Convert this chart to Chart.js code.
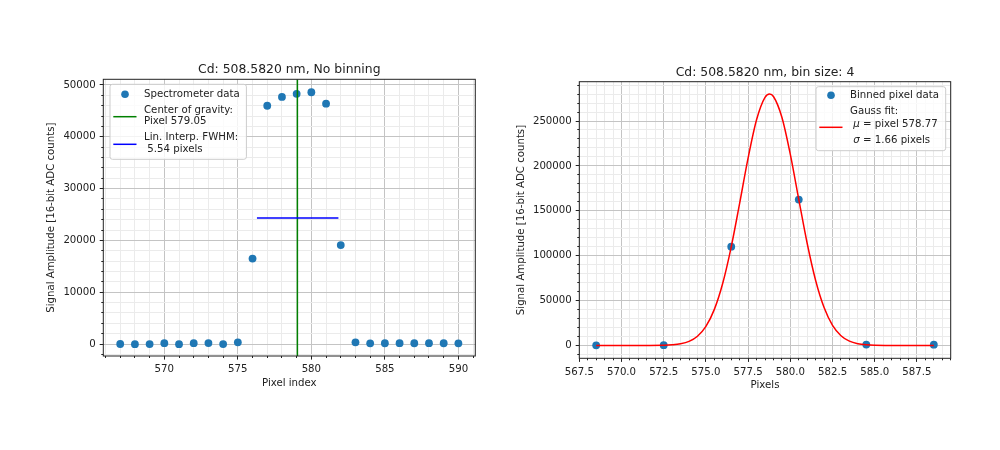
<!DOCTYPE html>
<html>
<head>
<meta charset="utf-8">
<script src="https://cdn.jsdelivr.net/npm/chart.js@4.4.0/dist/chart.umd.min.js"></script>
<style>
  body { margin: 0; background: #fff; }
  #wrap { position: relative; width: 1000px; height: 450px; }
  canvas { position: absolute; top: 0; }
</style>
</head>
<body>
<div id="wrap">
  <canvas id="raw" width="500" height="450" style="left:0"></canvas>
  <canvas id="binned" width="500" height="450" style="left:500px"></canvas>
</div>
<script>
// ---- left plot: unbinned spectrometer pixels ----
var pixelIndex = [567, 568, 569, 570, 571, 572, 573, 574, 575, 576, 577, 578,
                  579, 580, 581, 582, 583, 584, 585, 586, 587, 588, 589, 590];
var rawCounts = [20, -10, 10, 180, -20, 170, 190, 0, 330, 16500, 46000, 47700,
                 48300, 48600, 46400, 19100, 330, 150, 160, 170, 160, 170, 160, 150];
var cogPixel = 579.05;
var fwhmLeft = 576.30, fwhmRight = 581.84, halfMax = 24330;
var rawXRange = [565.85, 591.15], rawYRange = [-2300, 51100];

// ---- right plot: bin size 4 + gauss fit ----
var binPixels = [568.5, 572.5, 576.5, 580.5, 584.5, 588.5];
var binCounts = [200, 300, 110000, 162500, 1000, 900];
var fitPixels = [568.5, 570.5, 572.5, 573.0, 573.5, 574.0, 574.5, 575.0, 575.5, 576.0,
                 576.5, 577.0, 577.5, 578.0, 578.5, 578.77, 579.0, 579.5, 580.0, 580.5,
                 581.0, 581.5, 582.0, 582.5, 583.0, 583.5, 584.0, 584.5, 585.0, 586.5, 588.5];
var fitCounts = [0, 0, 230, 670, 1800, 4500, 10300, 21300, 40200, 69600,
                 109900, 158600, 208900, 251400, 276300, 280000, 277300, 254200, 212800, 162700,
                 113600, 72400, 42200, 22400, 10900, 4800, 1960, 730, 250, 0, 0];
var binXRange = [567.5, 589.5], binYRange = [-14300, 293800];

function xy(xs, ys) {
  return xs.map(function(x, i) { return { x: x, y: ys[i] }; });
}
function isMajor(v, step) {
  return Math.abs(v / step - Math.round(v / step)) < 1e-6;
}
function align(px) {
  return Math.round(px - 0.5) + 0.5;
}
// every multiple of step inside the axis range (minor + major)
function tickValues(range, step) {
  var out = [];
  for (var k = Math.ceil(range[0] / step - 1e-9); k * step <= range[1] + 1e-9; k++) {
    out.push({ value: Math.round(k * step * 1000) / 1000 });
  }
  return out;
}

Chart.defaults.font.family = '"DejaVu Sans", sans-serif';
Chart.defaults.font.size = 10.2;
Chart.defaults.color = '#222';

// matplotlib look: frame, outward ticks, title, legend box
var mplDecor = {
  id: 'mplDecor',
  afterDraw: function(chart, args, opts) {
    var ctx = chart.ctx, a = chart.chartArea;
    var xs = chart.scales.x, ys = chart.scales.y;
    ctx.save();
    ctx.strokeStyle = '#222';
    ctx.lineWidth = 1;
    ctx.beginPath();
    xs.ticks.forEach(function(t) {
      var px = align(xs.getPixelForValue(t.value));
      var len = isMajor(t.value, opts.xMajor) ? 3.6 : 2;
      ctx.moveTo(px, a.bottom);
      ctx.lineTo(px, a.bottom + len);
    });
    ys.ticks.forEach(function(t) {
      var py = align(ys.getPixelForValue(t.value));
      var len = isMajor(t.value, opts.yMajor) ? 3.6 : 2;
      ctx.moveTo(a.left, py);
      ctx.lineTo(a.left - len, py);
    });
    ctx.stroke();
    ctx.strokeRect(a.left, a.top, a.right - a.left, a.bottom - a.top);

    ctx.fillStyle = '#222';
    ctx.font = '12.4px "DejaVu Sans"';
    ctx.textAlign = 'center';
    ctx.textBaseline = 'alphabetic';
    ctx.fillText(opts.title, (a.left + a.right) / 2, a.top - 6);

    var lg = opts.legend;
    var bx = lg.side === 'left' ? a.left + lg.dx : a.right - lg.dx - lg.w;
    var by = a.top + lg.dy;
    ctx.beginPath();
    ctx.roundRect(bx, by, lg.w, lg.h, 2.5);
    ctx.fillStyle = 'rgba(255,255,255,0.8)';
    ctx.fill();
    ctx.strokeStyle = '#cccccc';
    ctx.stroke();

    ctx.textAlign = 'left';
    ctx.textBaseline = 'middle';
    lg.items.forEach(function(it) {
      if (it.kind === 'dot') {
        ctx.beginPath();
        ctx.arc(bx + 15, by + it.y, 3.8, 0, Math.PI * 2);
        ctx.fillStyle = it.color;
        ctx.fill();
      } else {
        ctx.beginPath();
        ctx.moveTo(bx + 3.3, by + it.y);
        ctx.lineTo(bx + 26.5, by + it.y);
        ctx.strokeStyle = it.color;
        ctx.lineWidth = 1.5;
        ctx.stroke();
      }
      ctx.fillStyle = '#222';
      it.lines.forEach(function(ln) {
        var x = bx + 34;
        ln[0].split(/([μσ])/).forEach(function(run) {
          if (!run) return;
          ctx.font = (/[μσ]/.test(run) ? 'oblique ' : '') + '10.2px "DejaVu Sans"';
          ctx.fillText(run, x, by + ln[1]);
          x += ctx.measureText(run).width;
        });
      });
    });
    ctx.restore();
  }
};

function axis(range, step, major, fmt, titleText, titlePad, size) {
  return {
    type: 'linear',
    min: range[0],
    max: range[1],
    afterBuildTicks: function(scale) { scale.ticks = tickValues(range, step); },
    afterFit: function(scale) {
      if (scale.isHorizontal()) scale.height = size; else scale.width = size;
    },
    grid: {
      drawTicks: false,
      color: function(c) { return isMajor(c.tick.value, major) ? '#c4c4c4' : '#ebebeb'; },
      lineWidth: 1
    },
    border: { display: false },
    ticks: {
      autoSkip: false,
      maxRotation: 0,
      padding: 7.5,
      callback: function(v) { return isMajor(v, major) ? fmt(v) : ''; }
    },
    title: { display: true, text: titleText, padding: titlePad }
  };
}

new Chart(document.getElementById('raw'), {
  type: 'scatter',
  data: {
    datasets: [
      {
        label: 'Spectrometer data',
        data: xy(pixelIndex, rawCounts),
        backgroundColor: '#1f77b4',
        borderWidth: 0,
        pointRadius: 3.9,
        order: 3
      },
      {
        label: 'Center of gravity',
        data: xy([cogPixel, cogPixel], rawYRange),
        showLine: true,
        borderColor: '#008000',
        borderWidth: 1.5,
        pointRadius: 0,
        order: 2
      },
      {
        label: 'Lin. Interp. FWHM',
        data: xy([fwhmLeft, fwhmRight], [halfMax, halfMax]),
        showLine: true,
        borderColor: '#0000ff',
        borderWidth: 1.5,
        pointRadius: 0,
        order: 1
      }
    ]
  },
  options: {
    responsive: false,
    animation: false,
    events: [],
    layout: { padding: { left: 0, top: 79.3, right: 24.7, bottom: 54 } },
    scales: {
      x: axis(rawXRange, 1, 5, function(v) { return String(v); }, 'Pixel index', { top: 0, bottom: 6.2 }, 40),
      y: axis(rawYRange, 2000, 10000, function(v) { return String(v); },
              'Signal Amplitude [16-bit ADC counts]', { top: 45.6, bottom: 0 }, 103.3)
    },
    plugins: {
      legend: { display: false },
      tooltip: { enabled: false },
      mplDecor: {
        title: 'Cd: 508.5820 nm, No binning',
        xMajor: 5, yMajor: 10000,
        legend: {
          side: 'left', dx: 6.7, dy: 5, w: 136.4, h: 75,
          items: [
            { kind: 'dot', color: '#1f77b4', y: 10, lines: [['Spectrometer data', 10]] },
            { kind: 'line', color: '#008000', y: 32.4,
              lines: [['Center of gravity:', 25.7], ['Pixel 579.05', 37.4]] },
            { kind: 'line', color: '#0000ff', y: 60,
              lines: [['Lin. Interp. FWHM:', 53.4], [' 5.54 pixels', 65]] }
          ]
        }
      }
    }
  },
  plugins: [mplDecor]
});

new Chart(document.getElementById('binned'), {
  type: 'scatter',
  data: {
    datasets: [
      {
        label: 'Binned pixel data',
        data: xy(binPixels, binCounts),
        backgroundColor: '#1f77b4',
        borderWidth: 0,
        pointRadius: 3.9,
        order: 2
      },
      {
        label: 'Gauss fit',
        data: xy(fitPixels, fitCounts),
        showLine: true,
        cubicInterpolationMode: 'monotone',
        borderColor: '#ff0000',
        borderWidth: 1.5,
        pointRadius: 0,
        order: 1
      }
    ]
  },
  options: {
    responsive: false,
    animation: false,
    events: [],
    layout: { padding: { left: 0, top: 81.7, right: 49.3, bottom: 51.7 } },
    scales: {
      x: axis(binXRange, 0.5, 2.5, function(v) { return v.toFixed(1); }, 'Pixels', { top: 0, bottom: 7.2 }, 40),
      y: axis(binYRange, 10000, 50000, function(v) { return String(v); },
              'Signal Amplitude [16-bit ADC counts]', { top: 15.6, bottom: 0 }, 79.3)
    },
    plugins: {
      legend: { display: false },
      tooltip: { enabled: false },
      mplDecor: {
        title: 'Cd: 508.5820 nm, bin size: 4',
        xMajor: 2.5, yMajor: 50000,
        legend: {
          side: 'right', dx: 5, dy: 5, w: 129.7, h: 64,
          items: [
            { kind: 'dot', color: '#1f77b4', y: 8.6, lines: [['Binned pixel data', 8.6]] },
            { kind: 'line', color: '#ff0000', y: 40.6,
              lines: [['Gauss fit:', 24.3], [' μ = pixel 578.77', 37.6], [' σ = 1.66 pixels', 53.3]] }
          ]
        }
      }
    }
  },
  plugins: [mplDecor]
});
</script>
</body>
</html>
